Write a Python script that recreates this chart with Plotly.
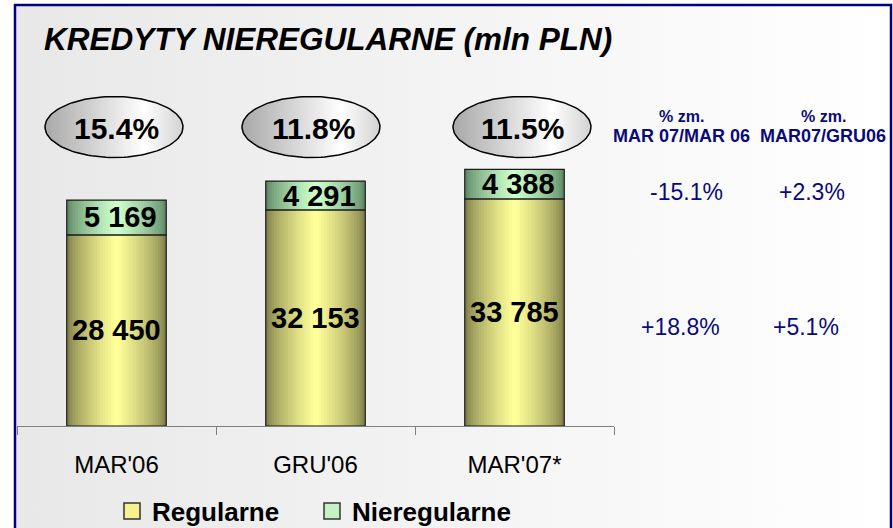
import numpy as np
import plotly.graph_objects as go

# dane (mln PLN)
okresy = ["MAR'06", "GRU'06", "MAR'07*"]
regularne = [28450, 32153, 33785]
nieregularne = [5169, 4291, 4388]
naglowki = [["% zm.", "MAR 07/MAR 06"], ["% zm.", "MAR07/GRU06"]]

W, H = 893, 528
FONT = "Liberation Sans, Arial, sans-serif"
NAVY = "#0a0a78"


def mix(c1, c2, t):
    a = [int(c1[i:i + 2], 16) for i in (1, 3, 5)]
    b = [int(c2[i:i + 2], 16) for i in (1, 3, 5)]
    return "#" + "".join(f"{round(x + (y - x) * t):02x}" for x, y in zip(a, b))


def fmt(v):
    return f"{v:,}".replace(",", " ")


def zmiana(a, b):
    return f"{100 * (a / b - 1):+.1f}%"


idx = list(range(len(okresy)))
udzial = [f"{100 * n / (r + n):.1f}%" for r, n in zip(regularne, nieregularne)]

fig = go.Figure()

# tlo z gradientem (os pikselowa x/y)
fig.add_trace(go.Scatter(
    x=[15, 891, 891, 15, 15], y=[6, 6, 540, 540, 6],
    fill="toself", mode="lines", line=dict(width=0),
    fillgradient=dict(type="horizontal",
                      colorscale=[[0, "#e8e8e8"], [1, "#ffffff"]]),
    hoverinfo="skip", showlegend=False))

# elipsy z udzialem kredytow nieregularnych
t = np.linspace(0, 2 * np.pi, 120)
for cx in [114, 311, 522]:
    fig.add_trace(go.Scatter(
        x=cx + 69 * np.cos(t), y=127 + 30.5 * np.sin(t),
        fill="toself", mode="lines", line=dict(color="black", width=1.5),
        fillgradient=dict(type="horizontal",
                          colorscale=[[0, "#a8a8a8"], [0.72, "#ffffff"], [1, "#d2d2d2"]]),
        hoverinfo="skip", showlegend=False))

# slupki - gradient warstwami
N = 18
serie = [
    (regularne, [0, 0, 0], "#80804a", "#ffff99"),
    (nieregularne, regularne, "#5f8866", "#ccffcc"),
]
for vals, bases, edge, center in serie:
    for k in range(N):
        fig.add_trace(go.Bar(
            x=idx, y=vals, base=bases, width=0.5 * (1 - k / N),
            marker=dict(color=mix(edge, center, (k / (N - 1)) ** 0.7), line=dict(width=0)),
            xaxis="x2", yaxis="y2", hoverinfo="skip", showlegend=False))
    fig.add_trace(go.Bar(
        x=idx, y=vals, base=bases, width=0.5,
        marker=dict(color="rgba(0,0,0,0)", line=dict(color="#1a1a1a", width=1.2)),
        xaxis="x2", yaxis="y2", hoverinfo="skip", showlegend=False))

# legenda
for nazwa, kolor in [("Regularne", "#f4f48e"), ("Nieregularne", "#c4f2c4")]:
    fig.add_trace(go.Scatter(
        x=[None], y=[None], mode="markers", name=f"<b>{nazwa}</b>",
        marker=dict(symbol="square", size=16, color=kolor,
                    line=dict(color="#333333", width=1.5)),
        xaxis="x2", yaxis="y2"))

ann = []
ann.append(dict(text="<b><i>KREDYTY NIEREGULARNE (mln PLN)</i></b>",
                x=42 / W, y=1 - 39 / H, xanchor="left", yanchor="middle",
                font=dict(family=FONT, size=31.5, color="black")))

for cx, u in zip([116, 313, 522], udzial):
    ann.append(dict(text=f"<b>{u}</b>", x=cx / W, y=1 - 128 / H,
                    xanchor="center", yanchor="middle",
                    font=dict(family=FONT, size=30, color="black")))

for i, r, n in zip(idx, regularne, nieregularne):
    ann.append(dict(text=f"<b>{fmt(r)}</b>", x=i, y=r / 2, xref="x2", yref="y2",
                    font=dict(family=FONT, size=29, color="black")))
    ann.append(dict(text=f"<b>{fmt(n)}</b>", x=i, y=r + n / 2, xref="x2", yref="y2",
                    xshift=4, font=dict(family=FONT, size=29, color="black")))

# kolumny zmian procentowych
zmiany = [
    [zmiana(nieregularne[2], nieregularne[0]), zmiana(regularne[2], regularne[0])],
    [zmiana(nieregularne[2], nieregularne[1]), zmiana(regularne[2], regularne[1])],
]
for cx, xs, nag, zm in zip([681, 823], [[686, 680], [812, 806]], naglowki, zmiany):
    ann.append(dict(text=f"<b>{nag[0]}</b>", x=cx / W, y=1 - 116 / H,
                    font=dict(family=FONT, size=16, color=NAVY)))
    ann.append(dict(text=f"<b>{nag[1]}</b>", x=cx / W, y=1 - 136 / H,
                    font=dict(family=FONT, size=18, color=NAVY)))
    for xx, yy, z in zip(xs, [192, 327], zm):
        ann.append(dict(text=z, x=xx / W, y=1 - yy / H,
                        font=dict(family=FONT, size=23, color=NAVY)))

for a in ann:
    a.setdefault("xref", "paper")
    a.setdefault("yref", "paper")
    a.setdefault("xanchor", "center")
    a.setdefault("yanchor", "middle")
    a["showarrow"] = False

fig.update_layout(
    width=W, height=H, autosize=False,
    margin=dict(l=0, r=0, t=0, b=0, autoexpand=False),
    paper_bgcolor="white", plot_bgcolor="rgba(0,0,0,0)",
    barmode="overlay",
    annotations=ann,
    xaxis=dict(domain=[0, 1], range=[0, W], visible=False, fixedrange=True),
    yaxis=dict(domain=[0, 1], range=[H, 0], visible=False, fixedrange=True),
    xaxis2=dict(domain=[17 / W, 614 / W], anchor="y2", range=[-0.5, 2.5],
                tickmode="array", tickvals=idx, ticktext=okresy, ticks="",
                showline=True, linecolor="#808080", linewidth=1,
                showgrid=False, zeroline=False, fixedrange=True,
                tickfont=dict(family=FONT, size=24, color="black"),
                ticklabelstandoff=17,
                minor=dict(tickmode="array", tickvals=[-0.5, 0.5, 1.5, 2.5],
                           ticks="outside", ticklen=8, tickwidth=1,
                           tickcolor="#808080", showgrid=False)),
    yaxis2=dict(domain=[102 / H, 1], anchor="x2", range=[0, 63390],
                visible=False, fixedrange=True),
    legend=dict(orientation="h", x=112 / W, xanchor="left",
                y=1 - 511 / H, yanchor="middle", bgcolor="rgba(0,0,0,0)",
                font=dict(family=FONT, size=26, color="black"),
                entrywidth=155, itemclick=False, itemdoubleclick=False),
    shapes=[dict(type="rect", xref="paper", yref="paper",
                 x0=15 / W, x1=891 / W, y0=-0.1, y1=1 - 5 / H,
                 line=dict(color="#000080", width=2.5), layer="above")],
)

# bez domyslnego marginesu strony, zeby wykres zaczynal sie w (0, 0)
fig.write_html("out.html", config={"displayModeBar": False},
               post_script="document.body.style.margin='0';")
